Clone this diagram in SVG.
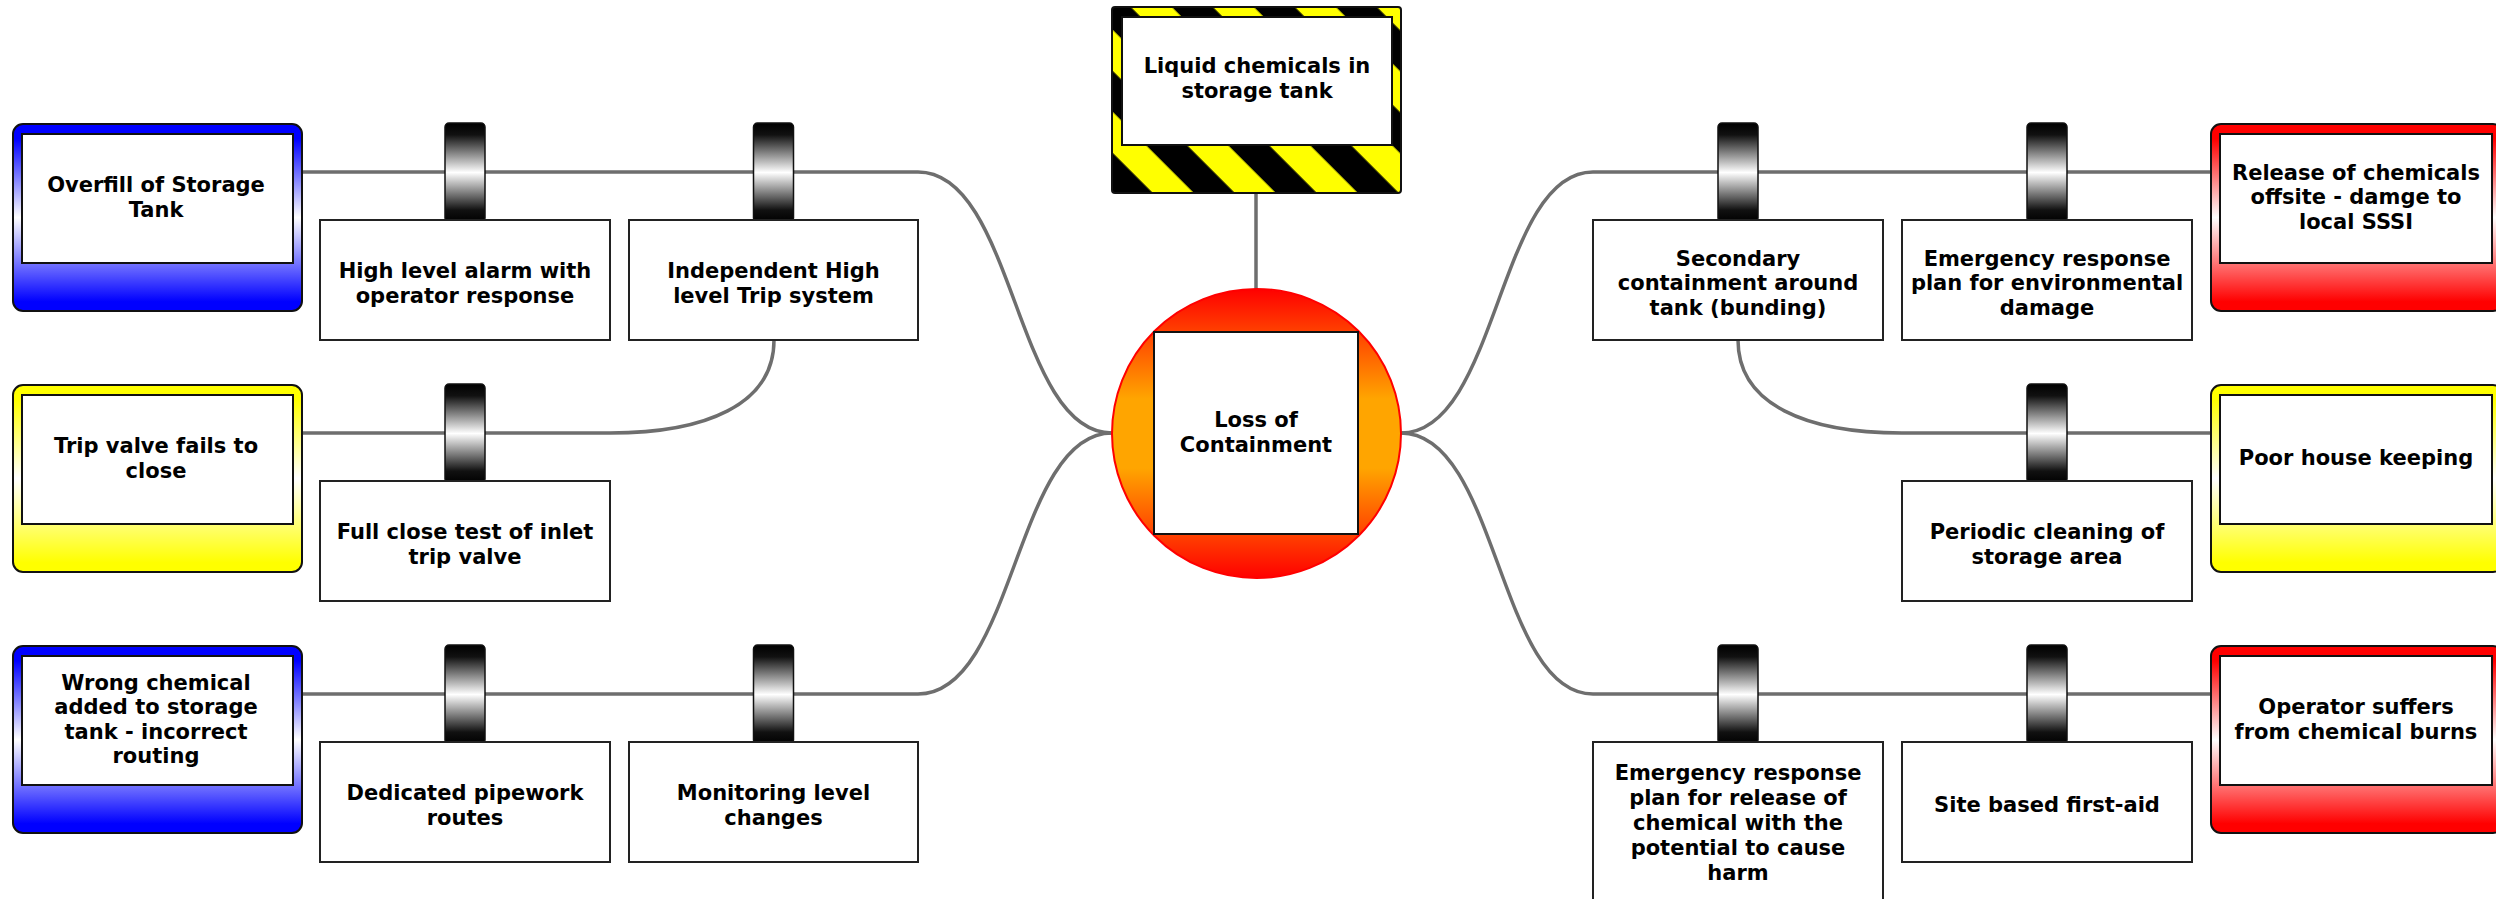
<svg xmlns="http://www.w3.org/2000/svg" width="2496" height="899" viewBox="0 0 2496 899">
<style>
.t{font-family:"DejaVu Sans","Verdana",sans-serif;font-weight:bold;font-size:21px;fill:#000;text-anchor:middle}
.conn{fill:none;stroke:#6e6e6e;stroke-width:3.5}
.bbox{fill:#fff;stroke:#222;stroke-width:2}
.tab{fill:url(#gTab);stroke:#111;stroke-width:1.5}
.inner{fill:#fff;stroke:#111;stroke-width:2}
.outer{stroke:#111;stroke-width:2}
</style>
<defs>
<linearGradient id="gTab" x1="0" y1="0" x2="0" y2="1">
<stop offset="0" stop-color="#000"/><stop offset="0.12" stop-color="#111"/><stop offset="0.5" stop-color="#fff"/><stop offset="0.88" stop-color="#111"/><stop offset="1" stop-color="#000"/>
</linearGradient>
<linearGradient id="gBlue" x1="0" y1="0" x2="0" y2="1">
<stop offset="0" stop-color="#0000ff"/><stop offset="0.08" stop-color="#0000ff"/><stop offset="0.5" stop-color="#ffffff"/><stop offset="0.95" stop-color="#0000ff"/><stop offset="1" stop-color="#0000ff"/>
</linearGradient>
<linearGradient id="gYellow" x1="0" y1="0" x2="0" y2="1">
<stop offset="0" stop-color="#ffff00"/><stop offset="0.08" stop-color="#ffff00"/><stop offset="0.5" stop-color="#ffffff"/><stop offset="0.95" stop-color="#ffff00"/><stop offset="1" stop-color="#ffff00"/>
</linearGradient>
<linearGradient id="gRed" x1="0" y1="0" x2="0" y2="1">
<stop offset="0" stop-color="#ff0000"/><stop offset="0.08" stop-color="#ff0000"/><stop offset="0.5" stop-color="#ffffff"/><stop offset="0.95" stop-color="#ff0000"/><stop offset="1" stop-color="#ff0000"/>
</linearGradient>
<linearGradient id="gHub" x1="0" y1="0" x2="0" y2="1">
<stop offset="0" stop-color="#ff0000"/><stop offset="0.38" stop-color="#ffa500"/><stop offset="0.62" stop-color="#ffa500"/><stop offset="1" stop-color="#ff0000"/>
</linearGradient>
<pattern id="pHaz" patternUnits="userSpaceOnUse" width="58" height="58" patternTransform="rotate(-45)">
<rect x="0" y="0" width="58" height="58" fill="#000"/>
<rect x="0" y="0" width="11.7" height="58" fill="#ffff00"/>
<rect x="40.7" y="0" width="17.3" height="58" fill="#ffff00"/>
</pattern>
</defs>

<g id="connectors">
<path class="conn" d="M1256,193 V289"/>
<path class="conn" d="M301,172 H918 C1015,172 1015,433 1112,433"/>
<path class="conn" d="M301,694 H918 C1015,694 1015,433 1112,433"/>
<path class="conn" d="M301,433 H610 C705,433 774,405 774,340"/>
<path class="conn" d="M1401,433 C1498,433 1498,172 1593,172 H2211"/>
<path class="conn" d="M1401,433 C1498,433 1498,694 1593,694 H2211"/>
<path class="conn" d="M1738,340 C1738,405 1807,433 1902,433 H2211"/>
</g>

<g id="hazard">
<rect x="1112" y="7" width="289" height="186" rx="3" fill="url(#pHaz)" stroke="#111" stroke-width="2"/>
<rect class="inner" x="1122" y="17" width="270" height="128"/>
<text class="t" x="1257" y="73">Liquid chemicals in</text>
<text class="t" x="1257" y="97.5">storage tank</text>
</g>

<g id="hub">
<circle cx="1256.5" cy="433.5" r="144.5" fill="url(#gHub)" stroke="#ff0000" stroke-width="2"/>
<rect class="inner" x="1154" y="332" width="204" height="202"/>
<text class="t" x="1256" y="427">Loss of</text>
<text class="t" x="1256" y="451.5">Containment</text>
</g>

<g id="cause-overfill">
<rect class="outer" x="13" y="124" width="289" height="187" rx="10" fill="url(#gBlue)"/>
<rect class="inner" x="22" y="134" width="271" height="129"/>
<text class="t" x="156" y="192">Overfill of Storage</text>
<text class="t" x="156" y="216.5">Tank</text>
</g>

<g id="cause-tripvalve">
<rect class="outer" x="13" y="385" width="289" height="187" rx="10" fill="url(#gYellow)"/>
<rect class="inner" x="22" y="395" width="271" height="129"/>
<text class="t" x="156" y="453">Trip valve fails to</text>
<text class="t" x="156" y="477.5">close</text>
</g>

<g id="cause-wrongchem">
<rect class="outer" x="13" y="646" width="289" height="187" rx="10" fill="url(#gBlue)"/>
<rect class="inner" x="22" y="656" width="271" height="129"/>
<text class="t" x="156" y="689.5">Wrong chemical</text>
<text class="t" x="156" y="714">added to storage</text>
<text class="t" x="156" y="738.5">tank - incorrect</text>
<text class="t" x="156" y="763">routing</text>
</g>

<g id="cause-release">
<rect class="outer" x="2211" y="124" width="292" height="187" rx="10" fill="url(#gRed)"/>
<rect class="inner" x="2220" y="134" width="272" height="129"/>
<text class="t" x="2356" y="179.5">Release of chemicals</text>
<text class="t" x="2356" y="204">offsite - damge to</text>
<text class="t" x="2356" y="228.5">local SSSI</text>
</g>

<g id="cause-housekeeping">
<rect class="outer" x="2211" y="385" width="292" height="187" rx="10" fill="url(#gYellow)"/>
<rect class="inner" x="2220" y="395" width="272" height="129"/>
<text class="t" x="2356" y="465">Poor house keeping</text>
</g>

<g id="cause-burns">
<rect class="outer" x="2211" y="646" width="292" height="187" rx="10" fill="url(#gRed)"/>
<rect class="inner" x="2220" y="656" width="272" height="129"/>
<text class="t" x="2356" y="714">Operator suffers</text>
<text class="t" x="2356" y="738.5">from chemical burns</text>
</g>

<g id="barrier-highlevelalarm">
<rect class="tab" x="445" y="123" width="40" height="99" rx="4"/>
<rect class="bbox" x="320" y="220" width="290" height="120"/>
<text class="t" x="465" y="278">High level alarm with</text>
<text class="t" x="465" y="302.5">operator response</text>
</g>

<g id="barrier-independenttrip">
<rect class="tab" x="753.5" y="123" width="40" height="99" rx="4"/>
<rect class="bbox" x="629" y="220" width="289" height="120"/>
<text class="t" x="773.5" y="278">Independent High</text>
<text class="t" x="773.5" y="302.5">level Trip system</text>
</g>

<g id="barrier-fullclosetest">
<rect class="tab" x="445" y="384" width="40" height="99" rx="4"/>
<rect class="bbox" x="320" y="481" width="290" height="120"/>
<text class="t" x="465" y="539">Full close test of inlet</text>
<text class="t" x="465" y="563.5">trip valve</text>
</g>

<g id="barrier-pipework">
<rect class="tab" x="445" y="645" width="40" height="99" rx="4"/>
<rect class="bbox" x="320" y="742" width="290" height="120"/>
<text class="t" x="465" y="800">Dedicated pipework</text>
<text class="t" x="465" y="824.5">routes</text>
</g>

<g id="barrier-monitoring">
<rect class="tab" x="753.5" y="645" width="40" height="99" rx="4"/>
<rect class="bbox" x="629" y="742" width="289" height="120"/>
<text class="t" x="773.5" y="800">Monitoring level</text>
<text class="t" x="773.5" y="824.5">changes</text>
</g>

<g id="barrier-bunding">
<rect class="tab" x="1718" y="123" width="40" height="99" rx="4"/>
<rect class="bbox" x="1593" y="220" width="290" height="120"/>
<text class="t" x="1738" y="265.5">Secondary</text>
<text class="t" x="1738" y="290">containment around</text>
<text class="t" x="1738" y="314.5">tank (bunding)</text>
</g>

<g id="barrier-erp-env">
<rect class="tab" x="2027" y="123" width="40" height="99" rx="4"/>
<rect class="bbox" x="1902" y="220" width="290" height="120"/>
<text class="t" x="2047" y="265.5">Emergency response</text>
<text class="t" x="2047" y="290">plan for environmental</text>
<text class="t" x="2047" y="314.5">damage</text>
</g>

<g id="barrier-cleaning">
<rect class="tab" x="2027" y="384" width="40" height="99" rx="4"/>
<rect class="bbox" x="1902" y="481" width="290" height="120"/>
<text class="t" x="2047" y="539">Periodic cleaning of</text>
<text class="t" x="2047" y="563.5">storage area</text>
</g>

<g id="barrier-erp-release">
<rect class="tab" x="1718" y="645" width="40" height="99" rx="4"/>
<rect class="bbox" x="1593" y="742" width="290" height="162"/>
<text class="t" x="1738" y="780">Emergency response</text>
<text class="t" x="1738" y="805">plan for release of</text>
<text class="t" x="1738" y="830">chemical with the</text>
<text class="t" x="1738" y="855">potential to cause</text>
<text class="t" x="1738" y="880">harm</text>
</g>

<g id="barrier-firstaid">
<rect class="tab" x="2027" y="645" width="40" height="99" rx="4"/>
<rect class="bbox" x="1902" y="742" width="290" height="120"/>
<text class="t" x="2047" y="812">Site based first-aid</text>
</g>
</svg>
